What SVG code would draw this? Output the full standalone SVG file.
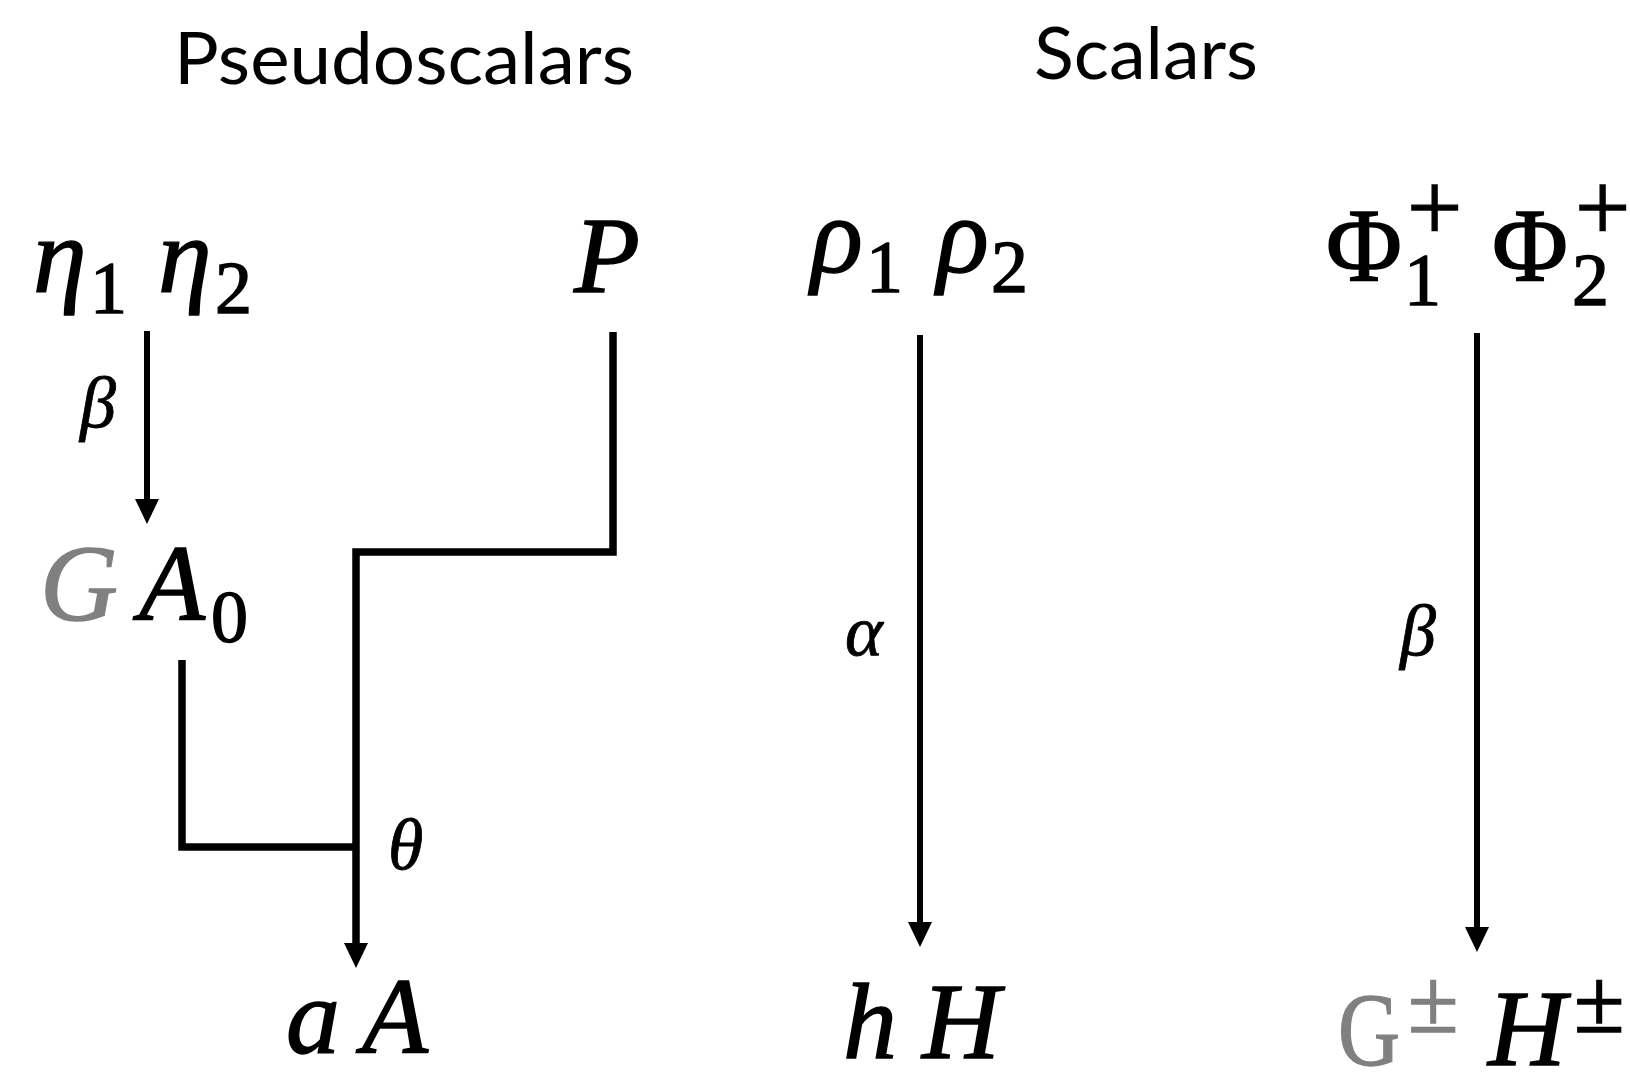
<svg xmlns="http://www.w3.org/2000/svg" width="1630" height="1088" viewBox="0 0 1630 1088">
  <defs>
    <style>
      .title { font-family: "Lato", "Liberation Sans", sans-serif; font-size: 72px; fill: #000; }
      .m { font-family: "Liberation Serif", "DejaVu Serif", serif; font-style: italic; font-size: 108px; fill: #000; stroke: #000; stroke-width: 1.4px; }
      .up { font-family: "Liberation Serif", "DejaVu Serif", serif; font-style: normal; font-size: 104px; fill: #000; stroke: #000; stroke-width: 1.4px; }
      .sub { font-family: "Liberation Serif", "DejaVu Serif", serif; font-style: normal; font-size: 74px; }
      .sup { font-family: "Liberation Serif", "DejaVu Serif", serif; font-style: normal; font-size: 98px; }
      .pm { font-family: "Liberation Serif", "DejaVu Serif", serif; font-style: normal; font-size: 92px; }
      .lbl { font-family: "Liberation Serif", "DejaVu Serif", serif; font-style: italic; font-size: 72px; fill: #000; stroke: #000; stroke-width: 0.8px; }
      .gray { fill: #808080; stroke: #808080; }
      .arrow { fill: none; stroke: #000; stroke-width: 6; }
      .bracket { fill: none; stroke: #000; stroke-width: 7.5; stroke-linejoin: miter; }
    </style>
    <marker id="head" markerUnits="userSpaceOnUse" markerWidth="26" markerHeight="26" viewBox="0 0 26 26" refX="0" refY="13" orient="auto">
      <path d="M0,1 L25,13 L0,25 Z" fill="#000"/>
    </marker>
  </defs>
  <rect width="1630" height="1088" fill="#fff"/>

  <g id="title-pseudoscalars"><text class="title" x="174" y="84" textLength="460" lengthAdjust="spacingAndGlyphs">Pseudoscalars</text></g>
  <g id="title-scalars"><text class="title" x="1034" y="79" textLength="224" lengthAdjust="spacingAndGlyphs">Scalars</text></g>

  <g id="connectors">
    <path class="arrow" d="M147,331 V499" marker-end="url(#head)"/>
    <path class="bracket" d="M613,332 V552 H356 V943" marker-end="url(#head)"/>
    <path class="bracket" d="M182,660 V847 H356"/>
    <path class="arrow" d="M920,335 V922" marker-end="url(#head)"/>
    <path class="arrow" d="M1477,333 V927" marker-end="url(#head)"/>
  </g>

  <g id="node-eta">
    <text class="m"><tspan x="33" y="292">η</tspan><tspan class="sub" x="90" y="313">1</tspan><tspan x="158" y="292">η</tspan><tspan class="sub" x="215" y="313">2</tspan></text>
  </g>
  <g id="node-P"><text class="m" x="574" y="292">P</text></g>
  <g id="node-GA0">
    <text class="m"><tspan class="gray" x="40" y="620">G</tspan><tspan x="139" y="620">A</tspan><tspan class="sub" x="211" y="642">0</tspan></text>
  </g>
  <g id="node-aA">
    <text class="m"><tspan x="286" y="1053">a</tspan><tspan x="362" y="1053">A</tspan></text>
  </g>
  <g id="node-rho">
    <text class="m"><tspan x="811" y="272">ρ</tspan><tspan class="sub" x="866" y="292">1</tspan><tspan x="937" y="272">ρ</tspan><tspan class="sub" x="991" y="292">2</tspan></text>
  </g>
  <g id="node-hH">
    <text class="m"><tspan x="843" y="1058">h</tspan><tspan x="922" y="1058">H</tspan></text>
  </g>
  <g id="node-Phi">
    <text class="up"><tspan x="1326" y="280">Φ</tspan><tspan class="sub" x="1404" y="305">1</tspan><tspan class="sup" x="1407" y="240">+</tspan><tspan x="1492" y="280">Φ</tspan><tspan class="sub" x="1572" y="305">2</tspan><tspan class="sup" x="1575" y="240">+</tspan></text>
  </g>
  <g id="node-GH">
    <text class="up"><tspan class="gray" x="1338" y="1065" textLength="62" lengthAdjust="spacingAndGlyphs">G</tspan><tspan class="pm gray" x="1408" y="1032">±</tspan><tspan class="m" x="1488" y="1065">H</tspan><tspan class="pm" x="1574" y="1032">±</tspan></text>
  </g>

  <g id="edge-labels">
    <text class="lbl" x="80" y="427">β</text>
    <text class="lbl" x="388" y="869">θ</text>
    <text class="lbl" x="845" y="655">α</text>
    <text class="lbl" x="1400" y="655">β</text>
  </g>
</svg>
